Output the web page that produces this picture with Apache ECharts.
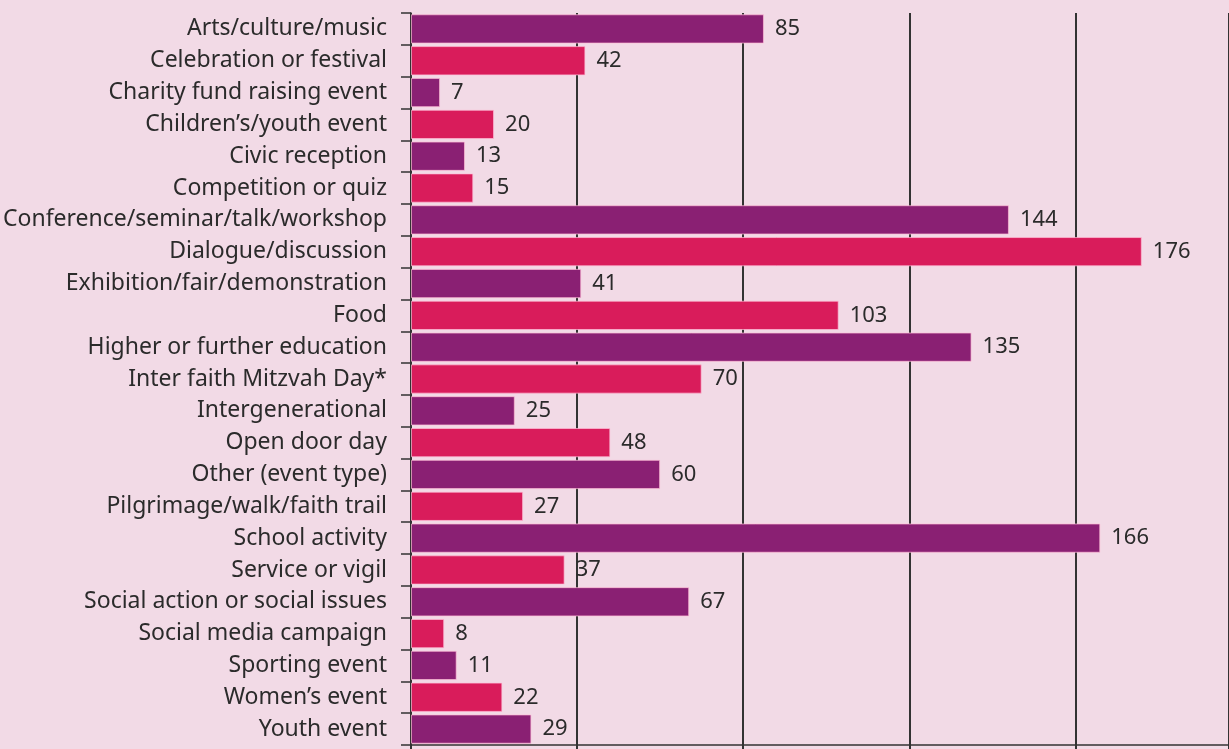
<!DOCTYPE html>
<html>
<head>
<meta charset="utf-8">
<style>
  html, body { margin: 0; padding: 0; background: #f2dae6; }
  #chart { width: 1229px; height: 749px; }
</style>
<script src="https://cdn.jsdelivr.net/npm/echarts@6/dist/echarts.min.js"></script>
</head>
<body>
<div id="chart"></div>
<script>
  // event types and counts
  const categories = [
    'Arts/culture/music',
    'Celebration or festival',
    'Charity fund raising event',
    'Children\u2019s/youth event',
    'Civic reception',
    'Competition or quiz',
    'Conference/seminar/talk/workshop',
    'Dialogue/discussion',
    'Exhibition/fair/demonstration',
    'Food',
    'Higher or further education',
    'Inter faith Mitzvah Day*',
    'Intergenerational',
    'Open door day',
    'Other (event type)',
    'Pilgrimage/walk/faith trail',
    'School activity',
    'Service or vigil',
    'Social action or social issues',
    'Social media campaign',
    'Sporting event',
    'Women\u2019s event',
    'Youth event'
  ]
  const counts = [85, 42, 7, 20, 13, 15, 144, 176, 41, 103, 135, 70, 25, 48, 60, 27, 166, 37, 67, 8, 11, 22, 29]
  const barColors = ['#8a2073', '#d91c5b']

  const textColor = '#2b2b2b'
  const lineColor = '#333333'
  const font = 'Noto Sans'

  const chart = echarts.init(document.getElementById('chart'))

  chart.setOption({
    backgroundColor: '#f2dae6',
    animation: false,
    grid: {
      left: 411,
      top: 13,
      right: 0,
      height: 732,
      containLabel: false
    },
    xAxis: {
      type: 'value',
      min: 0,
      max: 197,
      interval: 40,
      axisLine: { show: true, lineStyle: { color: lineColor, width: 1.5 } },
      axisTick: { show: true, length: 5, lineStyle: { color: lineColor, width: 2 } },
      axisLabel: { show: false },
      splitLine: { show: true, lineStyle: { color: lineColor, width: 2 } }
    },
    yAxis: {
      type: 'category',
      inverse: true,
      data: categories,
      axisLine: { show: true, lineStyle: { color: lineColor, width: 1.5 } },
      axisTick: { show: true, length: 10, lineStyle: { color: lineColor, width: 1.5 } },
      axisLabel: {
        margin: 24,
        fontSize: 23,
        fontFamily: font,
        color: textColor
      }
    },
    series: [{
      type: 'bar',
      barCategoryGap: '8%',
      data: counts.map((v, i) => ({
        value: v,
        itemStyle: { color: barColors[i % 2] }
      })),
      itemStyle: { borderColor: 'rgba(255, 190, 215, 0.7)', borderWidth: 1 },
      label: {
        show: true,
        position: 'right',
        distance: 11,
        fontSize: 22,
        fontFamily: font,
        color: textColor
      }
    }]
  })
</script>
</body>
</html>
